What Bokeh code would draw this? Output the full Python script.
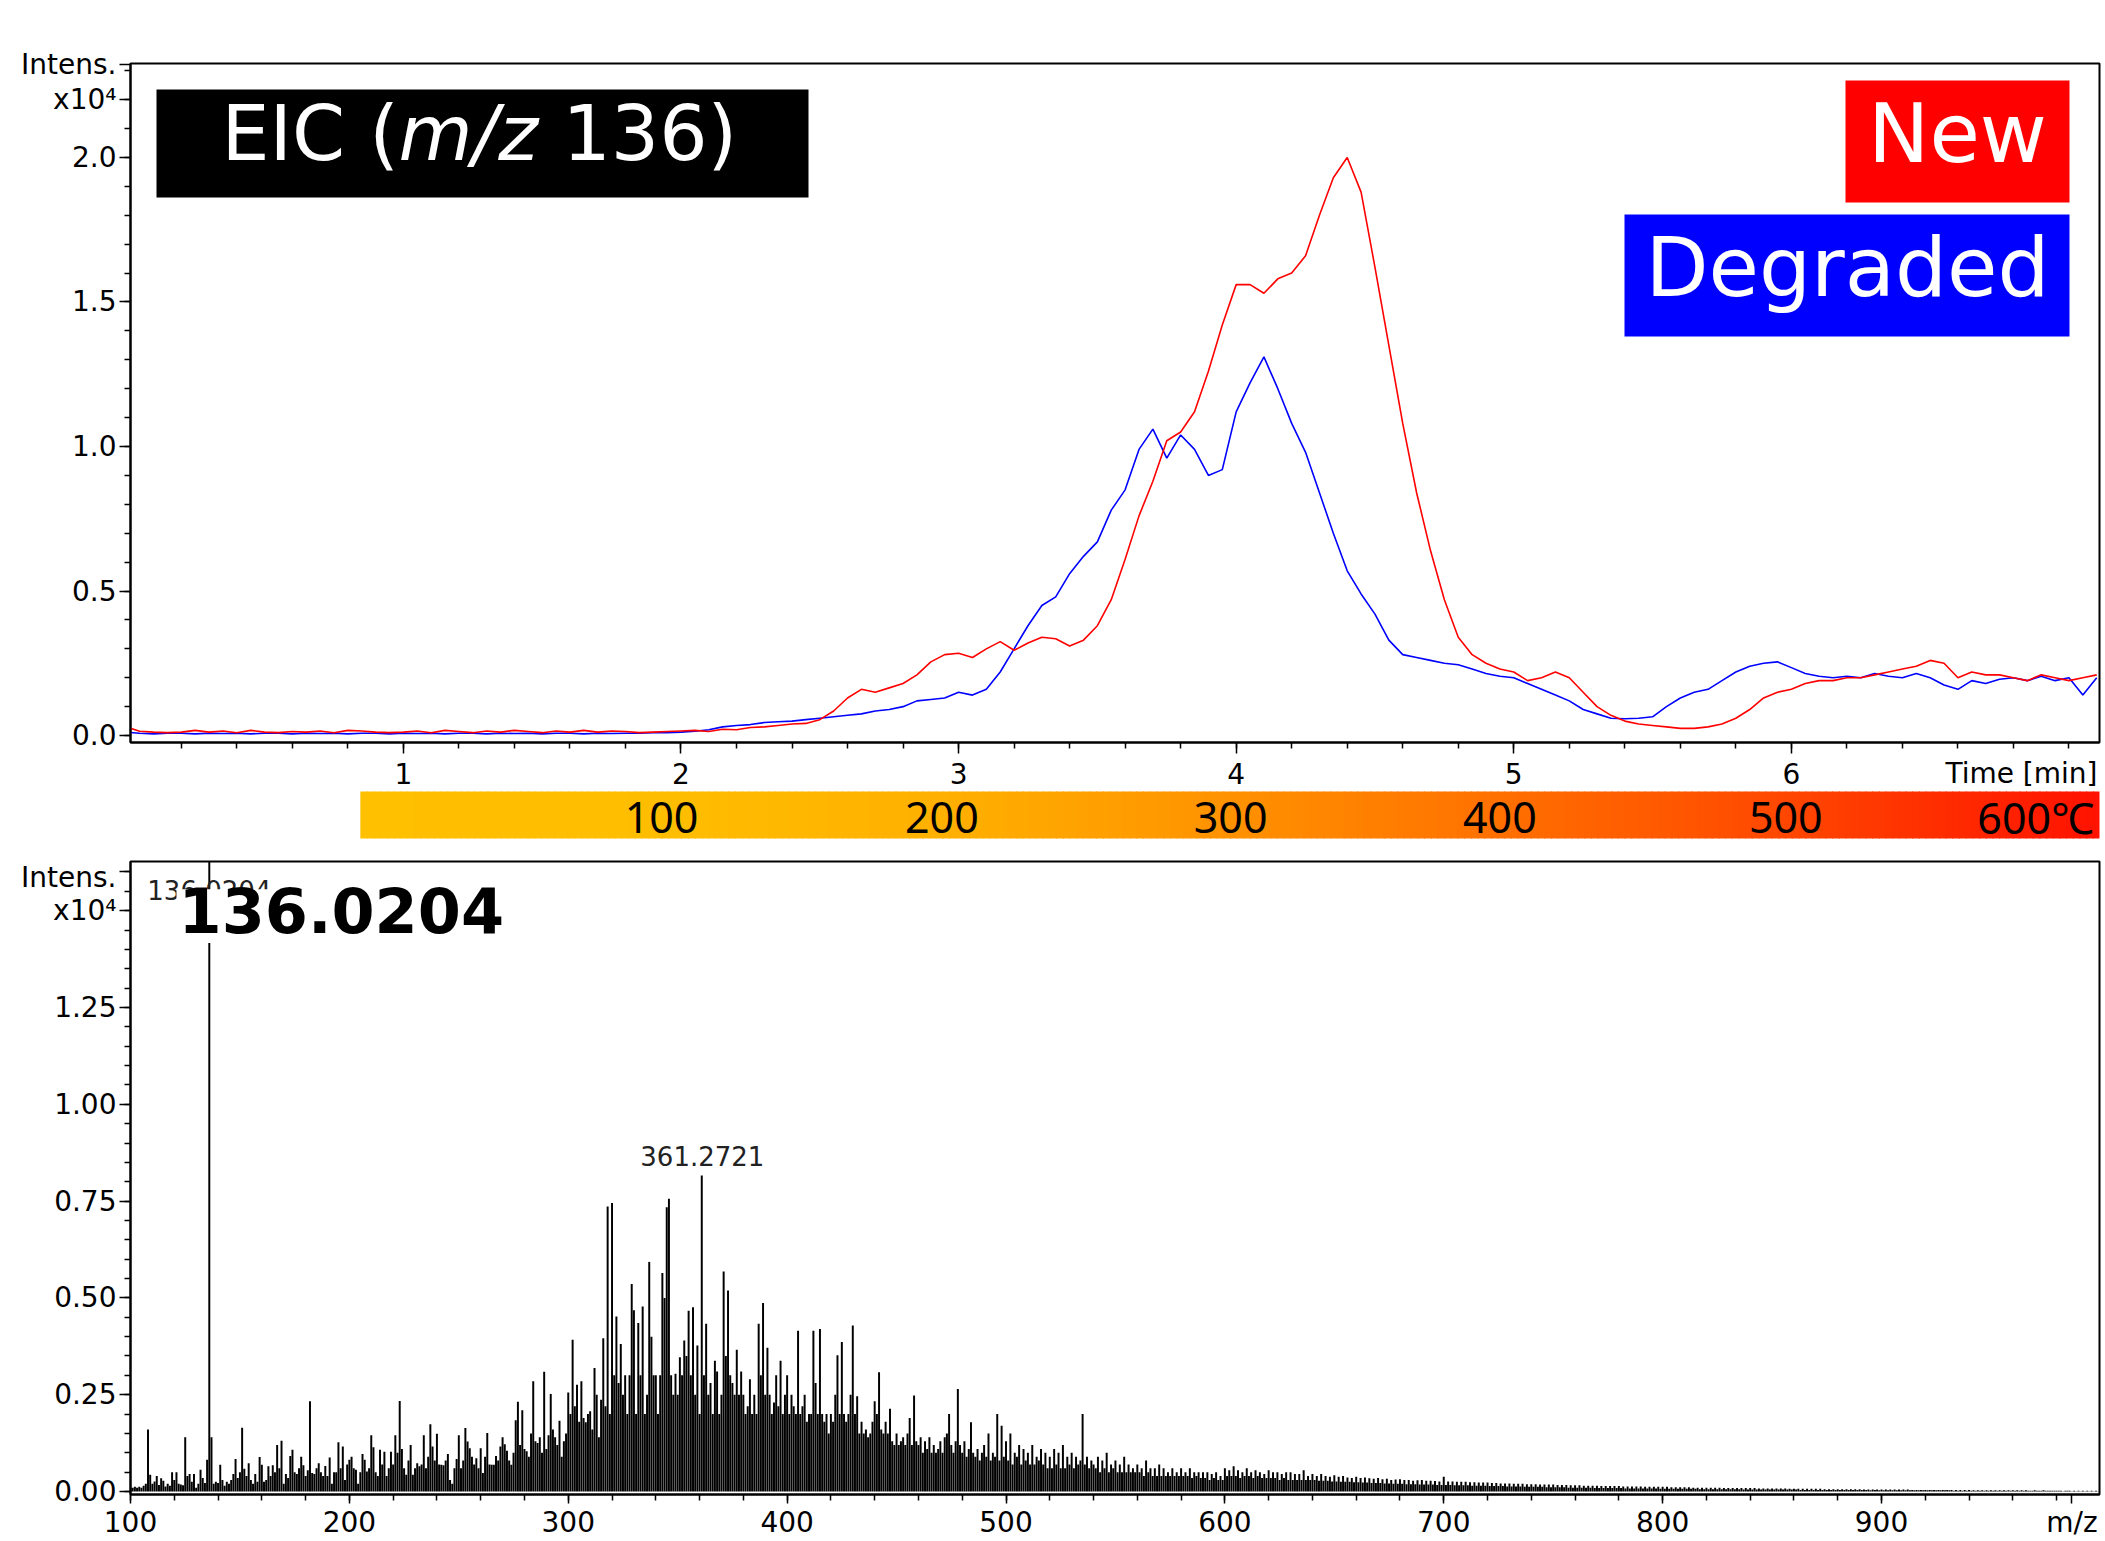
import numpy as np
from bokeh.plotting import figure
from bokeh.layouts import column
from bokeh.models import (Range1d, FixedTicker, CustomJSTickFormatter, BoxAnnotation,
                          Label, ColumnDataSource)
from bokeh.embed import file_html
from bokeh.resources import INLINE
from bokeh.core.properties import value

# ------------------------------------------------------------------ data
# EIC (m/z 136), intensity in units of 1e4, time grid in minutes
eic_time = np.round(np.arange(0.0, 7.1001, 0.05), 2)
eic_new = [
    0.030, 0.015, 0.012, 0.010, 0.012, 0.018, 0.012, 0.016, 0.010, 0.018,
    0.012, 0.010, 0.014, 0.012, 0.016, 0.010, 0.018, 0.016, 0.012, 0.010,
    0.012, 0.016, 0.010, 0.018, 0.014, 0.010, 0.016, 0.012, 0.018, 0.014,
    0.010, 0.016, 0.012, 0.018, 0.012, 0.016, 0.014, 0.010, 0.012, 0.014,
    0.016, 0.018, 0.014, 0.022, 0.020, 0.028, 0.030, 0.035, 0.040, 0.042,
    0.055, 0.085, 0.130, 0.160, 0.150, 0.165, 0.180, 0.210, 0.255, 0.280,
    0.285, 0.270, 0.300, 0.325, 0.295, 0.320, 0.340, 0.335, 0.310, 0.330,
    0.380, 0.470, 0.610, 0.760, 0.880, 1.020, 1.050, 1.120, 1.260, 1.420,
    1.560, 1.560, 1.530, 1.580, 1.600, 1.660, 1.800, 1.930, 2.000, 1.880,
    1.620, 1.350, 1.080, 0.840, 0.640, 0.470, 0.340, 0.280, 0.250, 0.230,
    0.220, 0.190, 0.200, 0.220, 0.200, 0.150, 0.100, 0.070, 0.050, 0.040,
    0.035, 0.030, 0.025, 0.025, 0.030, 0.040, 0.060, 0.090, 0.130, 0.150,
    0.160, 0.180, 0.190, 0.190, 0.200, 0.200, 0.210, 0.220, 0.230, 0.240,
    0.260, 0.250, 0.200, 0.220, 0.210, 0.210, 0.200, 0.190, 0.210, 0.200,
    0.190, 0.200, 0.210,
]
eic_degraded = [
    0.012, 0.008, 0.006, 0.008, 0.008, 0.006, 0.008, 0.007, 0.008, 0.006,
    0.008, 0.008, 0.006, 0.008, 0.007, 0.008, 0.006, 0.008, 0.008, 0.006,
    0.008, 0.007, 0.008, 0.006, 0.008, 0.008, 0.006, 0.008, 0.007, 0.008,
    0.006, 0.008, 0.008, 0.006, 0.008, 0.007, 0.008, 0.008, 0.010, 0.010,
    0.012, 0.015, 0.020, 0.030, 0.035, 0.038, 0.045, 0.048, 0.050, 0.055,
    0.060, 0.065, 0.070, 0.075, 0.085, 0.090, 0.100, 0.120, 0.125, 0.130,
    0.150, 0.140, 0.160, 0.220, 0.300, 0.380, 0.450, 0.480, 0.560, 0.620,
    0.670, 0.780, 0.850, 0.990, 1.060, 0.960, 1.040, 0.990, 0.900, 0.920,
    1.120, 1.220, 1.310, 1.200, 1.080, 0.980, 0.840, 0.700, 0.570, 0.490,
    0.420, 0.330, 0.280, 0.270, 0.260, 0.250, 0.245, 0.230, 0.215, 0.205,
    0.200, 0.180, 0.160, 0.140, 0.120, 0.090, 0.075, 0.060, 0.058, 0.060,
    0.065, 0.100, 0.130, 0.150, 0.160, 0.190, 0.220, 0.240, 0.250, 0.255,
    0.235, 0.215, 0.205, 0.200, 0.205, 0.200, 0.215, 0.205, 0.200, 0.215,
    0.200, 0.175, 0.160, 0.190, 0.180, 0.195, 0.200, 0.190, 0.205, 0.190,
    0.200, 0.140, 0.200,
]
series_names = ["New", "Degraded"]
series_colors = ["#FF0000", "#0000FF"]
time_ticks = [1, 2, 3, 4, 5, 6]

# temperature programme shown under the time axis
temp_labels = ["100", "200", "300", "400", "500", "600℃"]
temp_time = [1.93, 2.94, 3.98, 4.95, 5.98, 6.88]

# mass spectrum: one intensity (x1e4) per nominal m/z, starting at 100
ms_int = [
    0.010, 0.010, 0.012, 0.010, 0.012, 0.010, 0.015, 0.020, 0.160, 0.043,
    0.020, 0.026, 0.040, 0.017, 0.034, 0.028, 0.013, 0.020, 0.015, 0.050,
    0.030, 0.050, 0.020, 0.018, 0.016, 0.140, 0.040, 0.045, 0.025, 0.045,
    0.010, 0.020, 0.056, 0.035, 0.022, 0.082, 1.700, 0.140, 0.020, 0.025,
    0.022, 0.069, 0.030, 0.015, 0.025, 0.020, 0.030, 0.045, 0.084, 0.035,
    0.050, 0.165, 0.059, 0.040, 0.073, 0.030, 0.020, 0.045, 0.025, 0.089,
    0.069, 0.025, 0.030, 0.065, 0.040, 0.068, 0.050, 0.120, 0.060, 0.131,
    0.020, 0.045, 0.035, 0.092, 0.108, 0.050, 0.045, 0.060, 0.090, 0.068,
    0.040, 0.055, 0.233, 0.048, 0.045, 0.060, 0.073, 0.050, 0.040, 0.066,
    0.040, 0.088, 0.020, 0.050, 0.050, 0.127, 0.060, 0.116, 0.030, 0.070,
    0.082, 0.090, 0.060, 0.056, 0.020, 0.050, 0.097, 0.082, 0.052, 0.060,
    0.145, 0.114, 0.050, 0.040, 0.108, 0.070, 0.103, 0.040, 0.060, 0.103,
    0.070, 0.145, 0.100, 0.234, 0.110, 0.060, 0.043, 0.080, 0.120, 0.043,
    0.060, 0.073, 0.065, 0.070, 0.145, 0.060, 0.090, 0.174, 0.116, 0.080,
    0.149, 0.070, 0.069, 0.068, 0.080, 0.097, 0.030, 0.020, 0.060, 0.084,
    0.145, 0.060, 0.080, 0.164, 0.129, 0.112, 0.090, 0.070, 0.086, 0.060,
    0.112, 0.048, 0.090, 0.151, 0.070, 0.069, 0.069, 0.092, 0.080, 0.116,
    0.140, 0.122, 0.105, 0.080, 0.069, 0.100, 0.184, 0.232, 0.120, 0.210,
    0.110, 0.104, 0.090, 0.150, 0.285, 0.130, 0.125, 0.140, 0.100, 0.309,
    0.110, 0.145, 0.252, 0.160, 0.140, 0.120, 0.183, 0.090, 0.130, 0.150,
    0.256, 0.200, 0.392, 0.220, 0.276, 0.180, 0.285, 0.190, 0.179, 0.200,
    0.207, 0.160, 0.319, 0.250, 0.140, 0.237, 0.396, 0.220, 0.736, 0.200,
    0.745, 0.300, 0.452, 0.280, 0.381, 0.250, 0.300, 0.200, 0.300, 0.536,
    0.468, 0.200, 0.435, 0.300, 0.478, 0.200, 0.250, 0.593, 0.400, 0.300,
    0.300, 0.200, 0.300, 0.564, 0.500, 0.734, 0.756, 0.300, 0.250, 0.304,
    0.250, 0.347, 0.300, 0.390, 0.350, 0.467, 0.300, 0.476, 0.250, 0.377,
    0.200, 0.816, 0.300, 0.433, 0.250, 0.280, 0.200, 0.338, 0.310, 0.200,
    0.250, 0.568, 0.350, 0.519, 0.300, 0.280, 0.250, 0.366, 0.250, 0.310,
    0.250, 0.200, 0.220, 0.290, 0.200, 0.250, 0.200, 0.433, 0.300, 0.487,
    0.250, 0.371, 0.250, 0.200, 0.230, 0.300, 0.220, 0.338, 0.200, 0.250,
    0.300, 0.200, 0.250, 0.220, 0.200, 0.415, 0.200, 0.220, 0.250, 0.180,
    0.200, 0.200, 0.415, 0.280, 0.200, 0.420, 0.200, 0.180, 0.200, 0.150,
    0.200, 0.180, 0.250, 0.352, 0.200, 0.386, 0.200, 0.180, 0.200, 0.250,
    0.429, 0.200, 0.246, 0.150, 0.180, 0.150, 0.160, 0.140, 0.150, 0.180,
    0.233, 0.200, 0.308, 0.160, 0.150, 0.180, 0.150, 0.214, 0.130, 0.120,
    0.150, 0.120, 0.130, 0.140, 0.120, 0.150, 0.190, 0.120, 0.248, 0.130,
    0.120, 0.140, 0.100, 0.130, 0.110, 0.140, 0.100, 0.120, 0.100, 0.110,
    0.130, 0.100, 0.140, 0.150, 0.200, 0.120, 0.100, 0.130, 0.265, 0.120,
    0.100, 0.130, 0.090, 0.110, 0.179, 0.100, 0.090, 0.110, 0.080, 0.100,
    0.120, 0.090, 0.150, 0.080, 0.100, 0.090, 0.200, 0.080, 0.170, 0.090,
    0.130, 0.080, 0.150, 0.070, 0.100, 0.090, 0.120, 0.070, 0.110, 0.080,
    0.100, 0.070, 0.120, 0.070, 0.090, 0.080, 0.110, 0.070, 0.100, 0.060,
    0.090, 0.060, 0.110, 0.070, 0.100, 0.060, 0.120, 0.060, 0.090, 0.070,
    0.100, 0.060, 0.090, 0.070, 0.080, 0.200, 0.070, 0.090, 0.060, 0.080,
    0.070, 0.060, 0.090, 0.050, 0.080, 0.060, 0.100, 0.050, 0.070, 0.060,
    0.080, 0.050, 0.070, 0.050, 0.090, 0.050, 0.070, 0.050, 0.060, 0.050,
    0.070, 0.050, 0.060, 0.040, 0.080, 0.050, 0.060, 0.040, 0.060, 0.040,
    0.070, 0.040, 0.060, 0.040, 0.050, 0.040, 0.060, 0.040, 0.050, 0.040,
    0.060, 0.040, 0.050, 0.040, 0.060, 0.035, 0.050, 0.040, 0.050, 0.035,
    0.050, 0.035, 0.050, 0.030, 0.045, 0.035, 0.050, 0.030, 0.040, 0.030,
    0.060, 0.040, 0.055, 0.040, 0.065, 0.040, 0.055, 0.035, 0.050, 0.040,
    0.060, 0.040, 0.050, 0.035, 0.055, 0.040, 0.050, 0.035, 0.045, 0.035,
    0.055, 0.035, 0.050, 0.035, 0.050, 0.030, 0.045, 0.035, 0.050, 0.030,
    0.050, 0.030, 0.045, 0.030, 0.045, 0.030, 0.055, 0.030, 0.040, 0.030,
    0.045, 0.030, 0.040, 0.028, 0.045, 0.028, 0.040, 0.028, 0.038, 0.026,
    0.042, 0.026, 0.038, 0.025, 0.040, 0.025, 0.036, 0.025, 0.035, 0.024,
    0.038, 0.024, 0.035, 0.023, 0.036, 0.023, 0.034, 0.022, 0.033, 0.022,
    0.035, 0.022, 0.032, 0.021, 0.033, 0.021, 0.030, 0.020, 0.031, 0.020,
    0.032, 0.020, 0.030, 0.019, 0.030, 0.019, 0.028, 0.019, 0.029, 0.018,
    0.030, 0.018, 0.028, 0.018, 0.028, 0.018, 0.027, 0.017, 0.026, 0.017,
    0.038, 0.017, 0.026, 0.017, 0.026, 0.016, 0.025, 0.016, 0.025, 0.016,
    0.025, 0.016, 0.024, 0.015, 0.024, 0.015, 0.023, 0.015, 0.023, 0.015,
    0.023, 0.014, 0.022, 0.014, 0.022, 0.014, 0.021, 0.014, 0.021, 0.013,
    0.021, 0.013, 0.020, 0.013, 0.020, 0.013, 0.020, 0.012, 0.019, 0.012,
    0.019, 0.012, 0.019, 0.012, 0.018, 0.012, 0.018, 0.011, 0.018, 0.011,
    0.018, 0.011, 0.017, 0.011, 0.017, 0.011, 0.017, 0.010, 0.016, 0.010,
    0.016, 0.010, 0.016, 0.010, 0.015, 0.010, 0.015, 0.010, 0.015, 0.009,
    0.015, 0.009, 0.014, 0.009, 0.014, 0.009, 0.014, 0.009, 0.014, 0.009,
    0.014, 0.009, 0.013, 0.008, 0.013, 0.008, 0.013, 0.008, 0.013, 0.008,
    0.013, 0.008, 0.012, 0.008, 0.012, 0.008, 0.012, 0.008, 0.012, 0.007,
    0.012, 0.007, 0.012, 0.007, 0.011, 0.007, 0.011, 0.007, 0.011, 0.007,
    0.011, 0.007, 0.011, 0.007, 0.010, 0.007, 0.010, 0.006, 0.010, 0.006,
    0.010, 0.006, 0.010, 0.006, 0.010, 0.006, 0.010, 0.006, 0.009, 0.006,
    0.009, 0.006, 0.009, 0.006, 0.009, 0.006, 0.009, 0.005, 0.009, 0.005,
    0.009, 0.005, 0.009, 0.005, 0.008, 0.005, 0.008, 0.005, 0.008, 0.005,
    0.008, 0.005, 0.008, 0.005, 0.008, 0.005, 0.008, 0.005, 0.007, 0.005,
    0.007, 0.005, 0.007, 0.004, 0.007, 0.004, 0.007, 0.004, 0.007, 0.004,
    0.007, 0.004, 0.007, 0.004, 0.006, 0.004, 0.006, 0.004, 0.006, 0.004,
    0.006, 0.004, 0.006, 0.004, 0.006, 0.004, 0.006, 0.004, 0.006, 0.004,
    0.006, 0.004, 0.005, 0.004, 0.005, 0.003, 0.005, 0.004, 0.005, 0.003,
    0.005, 0.003, 0.005, 0.003, 0.005, 0.003, 0.005, 0.003, 0.005, 0.003,
    0.005, 0.003, 0.005, 0.003, 0.004, 0.003, 0.004, 0.003, 0.004, 0.003,
    0.004, 0.003, 0.004, 0.003, 0.004, 0.003, 0.004, 0.003, 0.004, 0.003,
    0.004, 0.003, 0.004, 0.002, 0.004, 0.002, 0.004, 0.002, 0.004, 0.002,
    0.004, 0.002, 0.003, 0.002, 0.003, 0.002, 0.003, 0.002, 0.003, 0.002,
    0.003, 0.002, 0.003, 0.002, 0.003, 0.002, 0.003, 0.002, 0.003, 0.002,
    0.003, 0.002, 0.003, 0.002, 0.003, 0.002, 0.003, 0.002, 0.002, 0.002,
    0.003, 0.002, 0.002, 0.002, 0.003, 0.002, 0.002, 0.002, 0.002, 0.002,
    0.002, 0.002, 0.002, 0.001, 0.002, 0.002, 0.002, 0.001, 0.002, 0.001,
    0.002, 0.001, 0.002, 0.001, 0.002, 0.001, 0.002, 0.001, 0.002, 0.001,
]
ms_mz = np.arange(100, 100 + len(ms_int))
mz_ticks = [100, 200, 300, 400, 500, 600, 700, 800, 900]
MZ_UNIT_TICK = 987          # where the "m/z" unit label sits on the axis
peak_labels = ["136.0204", "361.2721"]
peak_mz = [136.0204, 361.2721]

# ------------------------------------------------------------------ layout constants
W = 2105
AX_FONT = "DejaVu Sans"
SHIFT = 0.36          # empirical baseline correction (fraction of font size)
# frames of all stacked plots are aligned by the column layout
FL, FR = 130, 2099
# top (EIC) frame in page pixels
TT, TB = 63, 742
X0, X1 = 0.017, 7.11
Y0, Y1 = -0.024, 2.325
TOP_H = 754
STRIP_H = 860 - TOP_H
# bottom (MS) frame in page pixels
BT, BB = 861, 1498
MX0, MX1 = 100.0, 999.6
MY0, MY1 = -0.0077, 1.627
BOT_H = 1541 - 860


def tx(px):
    return X0 + (px - FL) / (FR - FL) * (X1 - X0)


def ty(py):
    return Y1 - (py - TT) / (TB - TT) * (Y1 - Y0)


def bx(px):
    return MX0 + (px - FL) / (FR - FL) * (MX1 - MX0)


def by(py):
    return MY1 - (py - BT) / (BB - BT) * (MY1 - MY0)


def base(py, size):
    """page-pixel baseline corrected for the renderer's baseline offset"""
    return py - SHIFT * size


def style_axis(ax, major_out=11, minor_out=6, standoff=4):
    ax.axis_line_color = "black"
    ax.axis_line_width = 2
    ax.major_tick_line_color = "black"
    ax.major_tick_line_width = 1.5
    ax.minor_tick_line_color = "black"
    ax.minor_tick_line_width = 1.5
    ax.major_tick_in = 0
    ax.minor_tick_in = 0
    ax.major_tick_out = major_out
    ax.minor_tick_out = minor_out
    ax.major_label_text_font = AX_FONT
    ax.major_label_text_font_size = "28px"
    ax.major_label_text_color = "black"
    ax.major_label_standoff = standoff


def hide_labels(ax):
    ax.formatter = CustomJSTickFormatter(code="return '';")
    ax.major_label_text_font_size = "1px"
    ax.major_label_standoff = 0


def clean(fig):
    fig.xgrid.visible = False
    fig.ygrid.visible = False
    fig.background_fill_color = "white"
    fig.border_fill_color = "white"


# ------------------------------------------------------------------ top: EIC
top = figure(width=W, height=TOP_H, x_range=Range1d(X0, X1), y_range=Range1d(Y0, Y1),
             output_backend="svg", toolbar_location=None,
             min_border_left=FL, min_border_right=W - FR, min_border_top=TT,
             min_border_bottom=TOP_H - TB)
clean(top)
top.outline_line_color = "black"
top.outline_line_width = 2

top.xaxis.ticker = FixedTicker(ticks=time_ticks,
                               minor_ticks=[round(0.2 * i, 1) for i in range(1, 36)])
style_axis(top.xaxis[0])
hide_labels(top.xaxis[0])
top.yaxis.ticker = FixedTicker(ticks=[0.0, 0.5, 1.0, 1.5, 2.0, 2.2, 2.32],
                               minor_ticks=[round(0.1 * i, 1) for i in range(0, 24)])
top.yaxis.formatter = CustomJSTickFormatter(code="""
if (Math.abs(tick - 2.32) < 1e-6) return "Intens.";
if (Math.abs(tick - 2.2) < 1e-6) return "x10\u2074";
return tick.toFixed(1);
""")
style_axis(top.yaxis[0], standoff=3)

eic_src = ColumnDataSource(dict(t=eic_time, new=eic_new, deg=eic_degraded))
top.line("t", "deg", source=eic_src, color=series_colors[1], line_width=1.6)
top.line("t", "new", source=eic_src, color=series_colors[0], line_width=1.6)

# title box: EIC (m/z 136)
top.add_layout(BoxAnnotation(left=tx(156), right=tx(808), top=ty(89), bottom=ty(197),
                             fill_color="black", fill_alpha=1.0, line_alpha=0))
for txt, px, style in [("EIC (", 221, "normal"), ("m/z", 398, "italic"), ("136)", 562, "normal")]:
    top.add_layout(Label(x=tx(px), y=ty(base(160, 76)), text=txt, text_font="DejaVu Sans",
                         text_font_size="76px", text_font_style=style, text_color="white",
                         text_align="left", text_baseline="alphabetic"))
# legend boxes
top.add_layout(BoxAnnotation(left=tx(1845), right=tx(2069), top=ty(80), bottom=ty(202),
                             fill_color=series_colors[0], fill_alpha=1.0, line_alpha=0))
top.add_layout(BoxAnnotation(left=tx(1624), right=tx(2069), top=ty(214), bottom=ty(336),
                             fill_color=series_colors[1], fill_alpha=1.0, line_alpha=0))
top.add_layout(Label(x=tx(1957), y=ty(base(163, 82)), text=series_names[0],
                     text_font="DejaVu Sans", text_font_size="82px", text_color="white",
                     text_align="center", text_baseline="alphabetic"))
top.add_layout(Label(x=tx(1847), y=ty(base(297, 82)), text=series_names[1],
                     text_font="DejaVu Sans", text_font_size="82px", text_color="white",
                     text_align="center", text_baseline="alphabetic"))

# ------------------------------------------------------------------ strip: time labels + temperature bar
tb = figure(width=W, height=STRIP_H, x_range=top.x_range, y_range=Range1d(0, 1),
            output_backend="svg", toolbar_location=None, x_axis_type=None, y_axis_type=None,
            min_border_left=FL, min_border_right=W - FR, min_border_top=0, min_border_bottom=0)
clean(tb)
tb.outline_line_color = None


def sy(py):
    return (860 - py) / STRIP_H


tb.text(x=time_ticks, y=[sy(base(783, 28))] * len(time_ticks),
        text=[str(v) for v in time_ticks], text_font=value(AX_FONT), text_font_size="28px",
        text_color="black", text_align="center", text_baseline="alphabetic")
tb.text(x=[tx(2097)], y=[sy(base(783, 28))], text=["Time [min]"], text_font=value(AX_FONT),
        text_font_size="28px", text_color="black", text_align="right",
        text_baseline="alphabetic")
# colour stops of the temperature gradient (time, green channel)
g_t = [0.845, 2.0, 3.0, 4.0, 5.0, 6.0, 7.11]
g_g = [192, 189, 175, 145, 110, 70, 18]
nseg = 260
edges = np.linspace(0.845, X1, nseg + 1)
mids = 0.5 * (edges[:-1] + edges[1:])
cols = ["#ff%02x00" % int(round(v)) for v in np.interp(mids, g_t, g_g)]
tb.quad(left=edges[:-1], right=edges[1:] + 0.004, bottom=sy(838), top=sy(791),
        fill_color=cols, line_color=None)
tb.text(x=temp_time, y=[sy(base(832, 43))] * len(temp_time), text=temp_labels,
        text_font=value("Noto Sans"), text_font_size="43px", text_color="black",
        text_align="center", text_baseline="alphabetic")

# ------------------------------------------------------------------ bottom: mass spectrum
bot = figure(width=W, height=BOT_H, x_range=Range1d(MX0, MX1), y_range=Range1d(MY0, MY1),
             output_backend="svg", toolbar_location=None,
             min_border_left=FL, min_border_right=W - FR, min_border_top=BT - 860,
             min_border_bottom=1541 - BB)
clean(bot)
bot.outline_line_color = "black"
bot.outline_line_width = 2
bot.xaxis.ticker = FixedTicker(ticks=mz_ticks + [MZ_UNIT_TICK],
                               minor_ticks=list(range(100, 1001, 20)))
bot.xaxis.formatter = CustomJSTickFormatter(
    code="return (tick == %d) ? 'm/z' : tick.toFixed(0);" % MZ_UNIT_TICK)
style_axis(bot.xaxis[0], major_out=9, minor_out=6, standoff=2)
bot.yaxis.ticker = FixedTicker(ticks=[0.0, 0.25, 0.5, 0.75, 1.0, 1.25, 1.5, 1.6],
                               minor_ticks=[round(0.05 * i, 2) for i in range(0, 33)])
bot.yaxis.formatter = CustomJSTickFormatter(code="""
if (Math.abs(tick - 1.6) < 1e-6) return "Intens.";
if (Math.abs(tick - 1.5) < 1e-6) return "x10\u2074";
return tick.toFixed(2);
""")
style_axis(bot.yaxis[0], major_out=11, minor_out=6, standoff=3)

ms_src = ColumnDataSource(dict(mz=ms_mz, inten=ms_int))
bot.vbar(x="mz", top="inten", width=0.9, source=ms_src, fill_color="black", line_color=None)

# peak annotation above m/z 361
i361 = int(np.argmin(np.abs(ms_mz - peak_mz[1])))
bot.text(x=[peak_mz[1]], y=[ms_int[i361]], text=[peak_labels[1]], y_offset=-20,
         text_font=value(AX_FONT), text_font_size="26px", text_color="#222222",
         text_align="center", text_baseline="alphabetic")
# off-scale base peak label at the top, partly hidden by the big label
bot.add_layout(Label(x=peak_mz[0], y=by(base(899, 26)), text=peak_labels[0],
                     text_font=AX_FONT, text_font_size="26px", text_color="#222222",
                     text_align="center", text_baseline="alphabetic"))
bot.add_layout(BoxAnnotation(left=bx(176), right=bx(506), top=by(889), bottom=by(943),
                             fill_color="white", fill_alpha=1.0, line_alpha=0))
bot.add_layout(Label(x=bx(178), y=by(base(932, 62)), text=peak_labels[0],
                     text_font="DejaVu Sans", text_font_size="62px", text_font_style="bold",
                     text_color="black", text_align="left", text_baseline="alphabetic"))

layout = column(top, tb, bot, spacing=0)
open("out.html", "w").write(file_html(layout, INLINE))
